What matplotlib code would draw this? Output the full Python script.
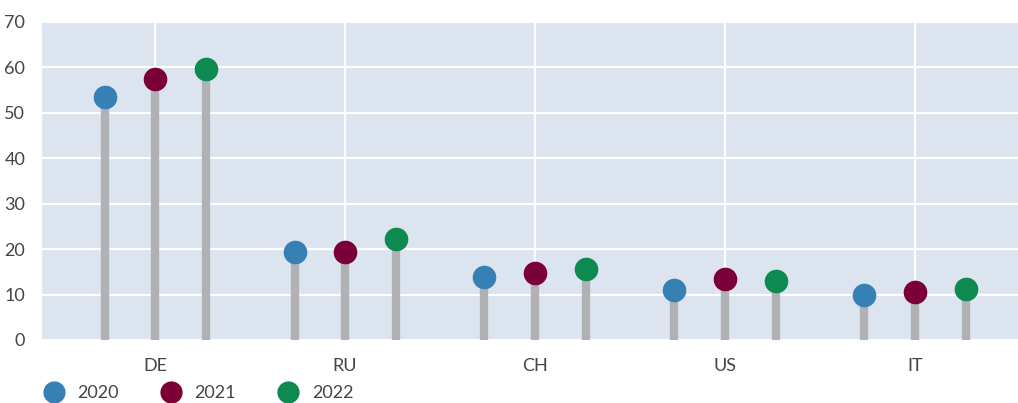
import numpy as np
import matplotlib.pyplot as plt
from matplotlib.lines import Line2D

plt.rcParams['font.family'] = ['Lato', 'DejaVu Sans']

countries = ['DE', 'RU', 'CH', 'US', 'IT']
years = ['2020', '2021', '2022']
v2020 = [53.5, 19.3, 13.9, 10.9, 9.8]
v2021 = [57.4, 19.3, 14.8, 13.4, 10.5]
v2022 = [59.6, 22.2, 15.7, 12.9, 11.2]
colors = ['#3780b4', '#7b0038', '#0c8a4f']

fig = plt.figure(figsize=(10.18, 4.03), dpi=100)
ax = fig.add_axes([42 / 1018, 1 - 340 / 403, 1 - 42 / 1018, 318 / 403])
ax.set_facecolor('#dce4ef')

x = np.arange(len(countries))
offsets = [-0.266, 0, 0.266]
for vals, off, c in zip([v2020, v2021, v2022], offsets, colors):
    ax.vlines(x + off, 0, vals, color='#b0b1b5', linewidth=6, zorder=2)
    ax.plot(x + off, vals, 'o', color=c, markersize=17, zorder=3, markeredgewidth=0)

ax.set_xlim(-0.595, 4.542)
ax.set_ylim(0, 70)
ax.set_yticks(range(0, 71, 10))
ax.set_xticks(x)
ax.set_xticklabels(countries)
ax.grid(True, color='white', linewidth=1.5)
ax.set_axisbelow(True)
for s in ax.spines.values():
    s.set_visible(False)
ax.tick_params(length=0, labelsize=13, labelcolor='#444444')
ax.tick_params(axis='y', pad=12)
ax.tick_params(axis='x', pad=13)

handles = [Line2D([], [], marker='o', linestyle='', color=c, markersize=16, markeredgewidth=0) for c in colors]
fig.legend(handles, years, loc='lower left', bbox_to_anchor=(0.019, -0.035), ncol=3,
           frameon=False, fontsize=13, labelcolor='#444444', handletextpad=0.3,
           columnspacing=1.9)

fig.savefig('out.png', dpi=100)
